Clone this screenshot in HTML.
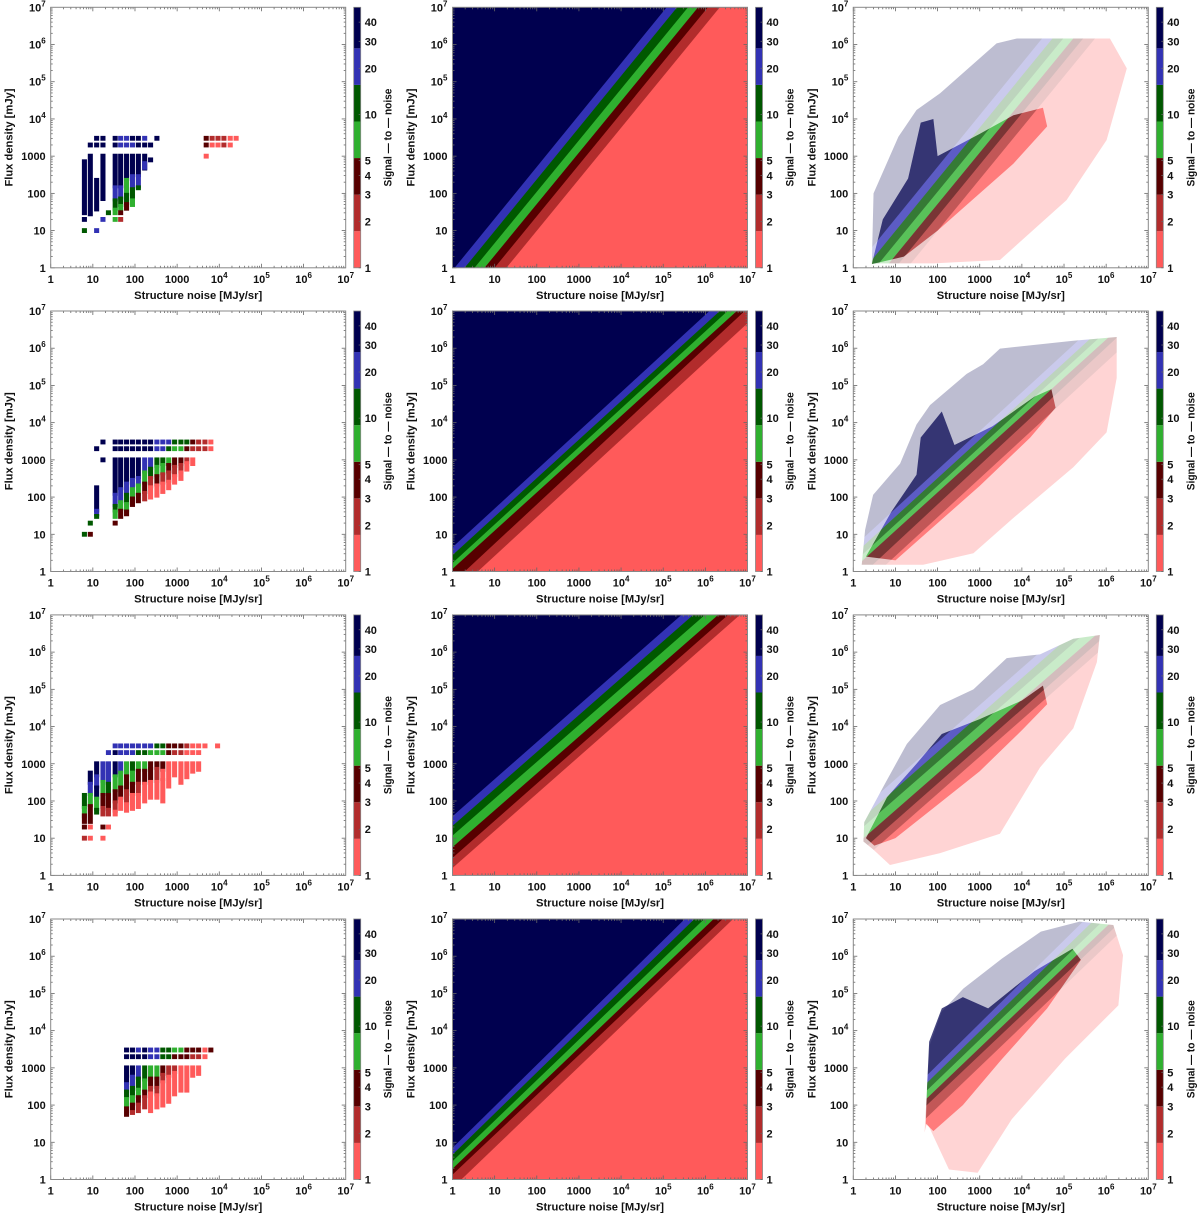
<!DOCTYPE html>
<html><head><meta charset="utf-8"><style>
html,body{margin:0;padding:0;background:#fff;}
svg{display:block;font-family:"Liberation Sans",sans-serif;font-weight:bold;}
</style></head><body>
<svg id="fig" xmlns="http://www.w3.org/2000/svg" width="1200" height="1215" viewBox="0 0 1200 1215"></svg>
<script>
// ---------- data ----------
const snrColors = ['#ff5a5a','#b22c2c','#570000','#2fb02f','#005800','#3232b4','#00004f'];
const cbTickValues = [1,2,3,4,5,10,20,30,40];
const cbBandEdges = [1,1.732,3,5.196,9,15.59,27,50];
const axisTickExps = [0,1,2,3,4,5,6,7];
// band boundary lines: log10(flux) at log10(noise)=0 and at log10(noise)=7
const bandStartRow1 = [-0.07,-0.40,-0.72,-1.05,-1.38,-1.77];
const bandEndRow1 = [9.67,9.32,8.95,8.62,8.30,7.91];
const bandStartRow2 = [0.65,0.44,0.23,0.07,-0.305,-0.625];
const bandEndRow2 = [7.94,7.68,7.49,7.26,7.07,6.67];
const bandStartRow3 = [1.59,1.33,1.07,0.76,0.47,0.20];
const bandEndRow3 = [8.56,8.28,8.00,7.69,7.46,7.18];
const bandStartRow4 = [0.85,0.67,0.49,0.29,0.13,-0.228];
const bandEndRow4 = [8.66,8.39,8.12,7.87,7.63,7.37];
// scatter envelopes [log noise, log flux]
const scatterOuterRow1 = [[0.44,0.12],[0.48,2.0],[1.07,3.52],[1.5,4.24],[2.06,4.69],[3.0,5.63],[3.4,6.03],[3.88,6.16],[6.09,6.16],[6.49,5.36],[6.01,3.43],[5.06,1.82],[3.48,0.21],[1.9,0.12]];
const scatterCoreRow1 = [[0.44,0.1],[0.7,1.3],[1.3,2.4],[1.6,3.9],[1.9,4.0],[2.0,3.0],[3.0,3.6],[3.8,4.1],[4.5,4.3],[4.6,3.8],[3.8,2.8],[3.0,2.0],[2.0,1.0],[1.2,0.3]];
const scatterOuterRow2 = [[0.2,0.18],[0.28,1.12],[0.47,2.06],[1.11,2.9],[1.5,3.95],[1.82,4.47],[2.69,5.31],[3.08,5.57],[3.48,5.99],[5.22,6.2],[6.25,6.3],[6.25,5.2],[6.01,3.74],[5.22,2.8],[3.8,1.44],[2.85,0.49],[1.66,0.18]];
const scatterCoreRow2 = [[0.3,0.4],[0.9,1.6],[1.5,2.6],[1.6,3.6],[2.1,4.3],[2.4,3.4],[3.3,3.9],[4.3,4.7],[4.7,4.9],[4.8,4.4],[4.2,3.6],[3.0,2.3],[2.0,1.3],[1.0,0.3]];
const scatterOuterRow3 = [[0.24,0.91],[0.26,1.43],[0.71,2.38],[1.27,3.53],[2.06,4.58],[2.85,5.0],[3.64,5.84],[4.43,5.94],[5.22,6.36],[5.85,6.46],[5.78,5.73],[5.22,3.95],[4.43,2.9],[3.48,1.12],[2.06,0.6],[0.87,0.28],[0.47,0.7]];
const scatterCoreRow3 = [[0.3,1.0],[0.8,2.1],[1.5,3.0],[2.1,3.8],[3.0,4.2],[4.0,4.7],[4.5,5.1],[4.6,4.6],[4.0,3.9],[3.0,2.8],[2.0,1.9],[1.0,1.0],[0.5,0.8]];
const scatterOuterRow4 = [[1.69,1.26],[1.75,2.43],[1.81,3.6],[2.09,4.5],[2.61,5.13],[3.53,5.94],[4.45,6.66],[5.37,6.93],[6.17,6.84],[6.4,6.03],[6.29,4.68],[5.02,3.24],[3.76,1.62],[2.95,0.18],[2.27,0.27],[1.75,1.53]];
const scatterCoreRow4 = [[1.72,1.5],[1.75,2.5],[1.8,3.7],[2.1,4.6],[2.6,4.9],[3.2,4.6],[4.3,5.6],[5.2,6.2],[5.4,5.9],[4.6,4.6],[3.5,3.2],[2.6,2.0],[1.9,1.3]];
// binned cells: [log noise, [[logF lo, logF hi, colour index], ...]]
const cellsRow1 = [
 [0.80,[[1.48,2.85,6],[1.30,1.30,6],[1.0,1.0,4]]],
 [0.94,[[3.30,3.30,6],[1.45,3.0,6]]],
 [1.09,[[3.48,3.48,6],[3.30,3.30,6],[1.58,2.35,6],[1.0,1.0,5]]],
 [1.24,[[3.48,3.48,6],[3.30,3.30,6],[1.86,3.0,6],[1.30,1.30,5]]],
 [1.37,[[1.48,1.48,4]]],
 [1.53,[[3.48,3.48,6],[3.30,3.30,6],[2.2,3.0,6],[1.85,2.15,5],[1.6,1.8,4],[1.48,1.55,3],[1.30,1.30,3]]],
 [1.66,[[3.48,3.48,5],[3.30,3.30,5],[2.2,3.0,6],[1.9,2.15,5],[1.7,1.85,4],[1.6,1.65,3],[1.48,1.48,2],[1.30,1.30,1]]],
 [1.80,[[3.48,3.48,5],[3.30,3.30,5],[2.4,3.0,6],[2.0,2.35,3],[1.75,1.95,4],[1.6,1.7,2]]],
 [1.94,[[3.48,3.48,6],[3.30,3.30,5],[2.5,3.0,6],[2.15,2.45,5],[1.85,2.1,4],[1.7,1.8,3]]],
 [2.08,[[3.48,3.48,6],[3.30,3.30,6],[2.5,3.0,6],[2.2,2.45,5],[2.15,2.15,4]]],
 [2.23,[[3.48,3.48,5],[3.30,3.30,6],[2.68,3.0,6],[2.7,2.8,5]]],
 [2.37,[[3.30,3.30,6],[2.90,2.90,6]]],
 [2.52,[[3.48,3.48,6]]],
 [3.69,[[3.48,3.48,2],[3.30,3.30,2],[3.0,3.0,0]]],
 [3.83,[[3.48,3.48,1],[3.30,3.30,0]]],
 [3.97,[[3.48,3.48,1],[3.30,3.30,0]]],
 [4.11,[[3.48,3.48,1],[3.30,3.30,1]]],
 [4.26,[[3.48,3.48,0],[3.30,3.30,0]]],
 [4.40,[[3.48,3.48,0]]]
];
const cellsRow2 = [
 [0.80,[[1.0,1.0,4]]],
 [0.94,[[1.3,1.3,4],[1.0,1.0,2]]],
 [1.09,[[3.30,3.30,6],[1.65,2.25,6],[1.55,1.62,5],[1.48,1.48,4]]],
 [1.24,[[3.48,3.48,6],[3.0,3.0,6]]],
 [1.53,[[3.48,3.48,6],[3.30,3.30,6],[2.1,3.0,6],[1.8,2.05,5],[1.65,1.75,4],[1.48,1.6,3],[1.30,1.30,2]]],
 [1.66,[[3.48,3.48,6],[3.30,3.30,6],[2.25,3.0,6],[1.9,2.2,5],[1.7,1.85,3],[1.48,1.62,2]]],
 [1.80,[[3.48,3.48,6],[3.30,3.30,6],[2.4,3.0,6],[2.1,2.35,5],[1.85,2.05,4],[1.65,1.8,3],[1.55,1.6,2]]],
 [1.94,[[3.48,3.48,6],[3.30,3.30,6],[2.5,3.0,6],[2.25,2.45,5],[2.0,2.2,3],[1.8,1.95,2]]],
 [2.08,[[3.48,3.48,6],[3.30,3.30,6],[2.55,3.0,6],[2.35,2.5,5],[2.1,2.3,3],[1.9,2.05,2]]],
 [2.23,[[3.48,3.48,6],[3.30,3.30,6],[2.7,3.0,5],[2.4,2.65,3],[2.15,2.35,2],[1.95,2.1,1]]],
 [2.37,[[3.48,3.48,6],[3.30,3.30,6],[2.8,3.0,5],[2.55,2.75,4],[2.3,2.5,1],[2.0,2.25,0]]],
 [2.52,[[3.48,3.48,5],[3.30,3.30,5],[2.85,3.0,4],[2.6,2.8,3],[2.35,2.55,2],[2.05,2.3,0]]],
 [2.66,[[3.48,3.48,5],[3.30,3.30,5],[2.9,3.0,4],[2.65,2.85,3],[2.4,2.6,1],[2.15,2.35,0]]],
 [2.80,[[3.48,3.48,5],[3.30,3.30,4],[2.9,3.0,3],[2.7,2.85,2],[2.45,2.65,1],[2.25,2.4,0]]],
 [2.94,[[3.48,3.48,4],[3.30,3.30,3],[2.85,3.0,2],[2.6,2.8,1],[2.4,2.55,0]]],
 [3.09,[[3.48,3.48,4],[3.30,3.30,3],[2.9,3.0,2],[2.7,2.85,1],[2.5,2.65,0]]],
 [3.23,[[3.48,3.48,4],[3.30,3.30,2],[2.95,3.0,1],[2.75,2.9,0]]],
 [3.37,[[3.48,3.48,2],[3.30,3.30,1],[2.9,3.0,0]]],
 [3.51,[[3.48,3.48,1],[3.30,3.30,1]]],
 [3.66,[[3.48,3.48,1],[3.30,3.30,1]]],
 [3.80,[[3.48,3.48,0],[3.30,3.30,0]]]
];
const cellsRow3 = [
 [0.80,[[1.85,2.15,4],[1.6,1.8,3],[1.45,1.6,2],[1.3,1.3,2],[1.0,1.0,1]]],
 [0.94,[[2.5,2.75,6],[2.2,2.45,5],[1.9,2.15,3],[1.45,1.85,2],[1.3,1.3,0],[1.0,1.0,0]]],
 [1.09,[[2.7,3.0,6],[2.4,2.65,5],[2.1,2.35,6],[1.8,2.05,3],[1.7,1.75,4]]],
 [1.24,[[2.55,3.0,5],[2.2,2.5,3],[1.85,2.15,2],[1.65,1.8,1],[1.3,1.3,2],[1.0,1.0,0]]],
 [1.37,[[3.30,3.30,5],[2.5,3.0,5],[2.2,2.45,4],[1.8,2.15,2],[1.65,1.75,1],[1.3,1.3,0]]],
 [1.53,[[3.48,3.48,5],[3.30,3.30,6],[2.7,3.0,6],[2.3,2.65,3],[2.0,2.25,2],[1.75,1.95,1],[1.65,1.7,0]]],
 [1.66,[[3.48,3.48,5],[3.30,3.30,5],[2.8,3.0,5],[2.4,2.75,3],[2.1,2.35,2],[1.8,2.05,0]]],
 [1.80,[[3.48,3.48,5],[3.30,3.30,5],[2.7,3.0,3],[2.3,2.65,2],[1.95,2.25,1],[1.75,1.9,0]]],
 [1.94,[[3.48,3.48,5],[3.30,3.30,5],[2.8,3.0,4],[2.5,2.75,3],[2.2,2.45,2],[1.8,2.15,0]]],
 [2.08,[[3.48,3.48,5],[3.30,3.30,4],[2.85,3.0,3],[2.5,2.8,2],[2.2,2.45,1],[1.85,2.15,0]]],
 [2.23,[[3.48,3.48,5],[3.30,3.30,4],[2.85,3.0,3],[2.5,2.8,2],[2.0,2.45,0]]],
 [2.37,[[3.48,3.48,5],[3.30,3.30,3],[2.9,3.0,2],[2.55,2.85,2],[2.1,2.5,0]]],
 [2.52,[[3.48,3.48,4],[3.30,3.30,3],[2.9,3.0,2],[2.55,2.85,1],[2.1,2.5,0]]],
 [2.66,[[3.48,3.48,4],[3.30,3.30,3],[2.85,3.0,2],[2.6,2.8,0],[2.0,2.55,0]]],
 [2.80,[[3.48,3.48,2],[3.30,3.30,2],[2.4,3.0,0]]],
 [2.94,[[3.48,3.48,2],[3.30,3.30,1],[2.7,3.0,0]]],
 [3.09,[[3.48,3.48,2],[3.30,3.30,1],[2.5,3.0,0]]],
 [3.23,[[3.48,3.48,1],[3.30,3.30,0],[2.65,3.0,0]]],
 [3.37,[[3.48,3.48,0],[3.30,3.30,0],[2.8,3.0,0]]],
 [3.51,[[3.48,3.48,0],[3.30,3.30,0],[2.85,3.0,0]]],
 [3.66,[[3.48,3.48,0]]],
 [3.96,[[3.48,3.48,0]]]
];
const cellsRow4 = [
 [1.80,[[3.48,3.48,6],[3.30,3.30,6],[2.6,3.0,6],[2.4,2.55,5],[2.2,2.35,4],[2.0,2.15,3],[1.75,1.9,2]]],
 [1.94,[[3.48,3.48,6],[3.30,3.30,6],[2.8,3.0,6],[2.5,2.75,5],[2.25,2.45,4],[2.05,2.2,3],[1.85,2.0,2],[1.8,1.8,1]]],
 [2.08,[[3.48,3.48,5],[3.30,3.30,6],[2.75,3.0,5],[2.45,2.7,4],[2.25,2.4,3],[2.05,2.2,2],[1.85,2.0,1]]],
 [2.23,[[3.48,3.48,6],[3.30,3.30,6],[2.7,3.0,4],[2.4,2.65,3],[2.25,2.35,2],[1.95,2.2,1]]],
 [2.37,[[3.48,3.48,5],[3.30,3.30,5],[2.75,3.0,3],[2.5,2.7,2],[2.35,2.45,1],[1.85,2.3,0]]],
 [2.52,[[3.48,3.48,5],[3.30,3.30,5],[2.75,3.0,3],[2.5,2.7,2],[2.3,2.45,1],[1.95,2.25,0]]],
 [2.66,[[3.48,3.48,4],[3.30,3.30,4],[2.85,3.0,2],[2.65,2.8,1],[2.0,2.6,0]]],
 [2.80,[[3.48,3.48,4],[3.30,3.30,4],[2.8,3.0,1],[2.1,2.75,0]]],
 [2.94,[[3.48,3.48,3],[3.30,3.30,2],[2.9,3.0,1],[2.3,2.85,0]]],
 [3.09,[[3.48,3.48,3],[3.30,3.30,2],[2.4,3.0,0]]],
 [3.23,[[3.48,3.48,2],[3.30,3.30,2],[2.4,3.0,0]]],
 [3.37,[[3.48,3.48,2],[3.30,3.30,1],[2.8,3.0,0]]],
 [3.51,[[3.48,3.48,2],[3.30,3.30,1],[2.85,3.0,0]]],
 [3.66,[[3.48,3.48,0],[3.30,3.30,0]]],
 [3.80,[[3.48,3.48,2]]]
];
const bandStarts = [bandStartRow1,bandStartRow2,bandStartRow3,bandStartRow4];
const bandEnds = [bandEndRow1,bandEndRow2,bandEndRow3,bandEndRow4];
const scatterOuter = [scatterOuterRow1,scatterOuterRow2,scatterOuterRow3,scatterOuterRow4];
const scatterCore = [scatterCoreRow1,scatterCoreRow2,scatterCoreRow3,scatterCoreRow4];
const cellsAll = [cellsRow1,cellsRow2,cellsRow3,cellsRow4];

// ---------- layout ----------
const NS='http://www.w3.org/2000/svg';
const svg=document.getElementById('fig');
const colX=[50.7,452.5,853.3];
const rowY=[7.3,311,614.9,919];
const PW=295, PH=260.5, DEC=7, CB_MAX=Math.log10(50);
function mk(tag,attrs,parent){const e=document.createElementNS(NS,tag);for(const k in attrs)e.setAttribute(k,attrs[k]);(parent||svg).appendChild(e);return e;}
let clipId=0;

function expLabel(parent,x,y,e,anchor,size){
  const t=mk('text',{x:x,y:y,'text-anchor':anchor,'font-size':size,fill:'#111'},parent);
  if(e<=3){t.textContent=String(Math.pow(10,e));}
  else{t.textContent='10';const s=mk('tspan',{dy:-5,'font-size':size-3},t);s.textContent=String(e);}
  return t;
}

function panel(r,c){
  const x0=colX[c], y0=rowY[r];
  const xs=v=>x0+v/DEC*PW, ys=v=>y0+PH-v/DEC*PH;
  const g=mk('g',{});
  
  
  const cid='clip'+(clipId++);
  const cp=mk('clipPath',{id:cid},g);
  mk('rect',{x:x0,y:y0,width:PW,height:PH},cp);

  function bandLayer(parent){
    const bg=mk('rect',{x:x0,y:y0,width:PW,height:PH,fill:snrColors[0]},parent);
    
    
    for(let i=5;i>=0;i--){
      const yl=ys(bandStarts[r][i]), yr=ys(bandEnds[r][i]);
      const p=mk('polygon',{points:`${x0},${yl} ${x0+PW},${yr} ${x0+PW},${y0-2000} ${x0},${y0-2000}`,fill:snrColors[6-i]},parent);
      
      
    }
  }

  if(c===1){
    const bgG=mk('g',{'clip-path':`url(#${cid})`},g);
    
    
    bandLayer(bgG);
  } else if(c===2){
    [['outer',scatterOuter[r],0.26],['core',scatterCore[r],0.72]].forEach(([nm,poly,op])=>{
      const id2='clip'+(clipId++);
      const cp2=mk('clipPath',{id:id2},g);
      mk('polygon',{points:poly.map(p=>xs(p[0])+','+ys(p[1])).join(' ')},cp2);
      const outer=mk('g',{'clip-path':`url(#${cid})`},g);
      const sg=mk('g',{'clip-path':`url(#${id2})`,opacity:op},outer);
      
      
      bandLayer(sg);
    });
  } else {
    const cg=mk('g',{'clip-path':`url(#${cid})`},g);
    
    
    cellsAll[r].forEach(col=>{
      col[1].forEach(s=>{
        const rc=mk('rect',{x:xs(col[0]-0.06),y:ys(s[1]+0.065),width:xs(0.12)-x0,height:ys(s[0]-0.065)-ys(s[1]+0.065),fill:snrColors[s[2]]},cg);
        
        
      });
    });
  }
  // ticks
  const tk=mk('g',{stroke:'#666','stroke-width':0.8},g);
  
  
  for(let d=0;d<DEC;d++){for(let m=1;m<=9;m++){
    const v=d+Math.log10(m); const L=m===1?4:2;
    const X=xs(v), Y=ys(v);
    mk('line',{x1:X,y1:y0+PH,x2:X,y2:y0+PH-L},tk);
    mk('line',{x1:X,y1:y0,x2:X,y2:y0+L},tk);
    mk('line',{x1:x0,y1:Y,x2:x0+L,y2:Y},tk);
    mk('line',{x1:x0+PW,y1:Y,x2:x0+PW-L,y2:Y},tk);
  }}
  const fr=mk('rect',{x:x0,y:y0,width:PW,height:PH,fill:'none',stroke:'#888','stroke-width':1},g);
  
  
  // tick labels
  axisTickExps.forEach(e=>{
    const tx=expLabel(g,xs(e),y0+PH+15,e,'middle',11);
    
    
    const ty=expLabel(g,x0-5,ys(e)+4,e,'end',11);
    
    
  });
  const xl=mk('text',{x:x0+PW/2,y:y0+PH+31,'text-anchor':'middle','font-size':11,fill:'#111',textLength:128,lengthAdjust:'spacingAndGlyphs'},g);
  xl.textContent='Structure noise [MJy/sr]';
  
  
  const yl=mk('text',{x:0,y:0,'text-anchor':'middle','font-size':11,fill:'#111',textLength:98,lengthAdjust:'spacingAndGlyphs',transform:`translate(${x0-38},${y0+PH/2}) rotate(-90)`},g);
  yl.textContent='Flux density [mJy]';
  
  
  // colorbar
  const cbx=x0+PW+8, cbw=7;
  const cs=v=>y0+PH-Math.log10(v)/CB_MAX*PH;
  const cb=mk('g',{},g);
  
  
  for(let i=0;i<7;i++){
    const b=mk('rect',{x:cbx,y:cs(cbBandEdges[i+1]),width:cbw,height:cs(cbBandEdges[i])-cs(cbBandEdges[i+1]),fill:snrColors[i]},cb);
    
    
  }
  mk('rect',{x:cbx,y:y0,width:cbw,height:PH,fill:'none',stroke:'#888','stroke-width':0.8},cb);
  cbTickValues.forEach(v=>{
    mk('line',{x1:cbx+cbw,y1:cs(v),x2:cbx+cbw-2,y2:cs(v),stroke:'#666','stroke-width':0.8},cb);
    const t=mk('text',{x:cbx+cbw+4,y:cs(v)+4,'font-size':11,fill:'#111'},cb);
    t.textContent=String(v);
    
    
  });
  const cl=mk('text',{x:0,y:0,'text-anchor':'middle','font-size':11,fill:'#111',textLength:98,lengthAdjust:'spacingAndGlyphs',transform:`translate(${x0+PW+46},${y0+PH/2}) rotate(-90)`},cb);
  cl.textContent='Signal \u2014 to \u2014 noise';
  
  
}
for(let r=0;r<4;r++)for(let c=0;c<3;c++)panel(r,c);
</script>
</body></html>
